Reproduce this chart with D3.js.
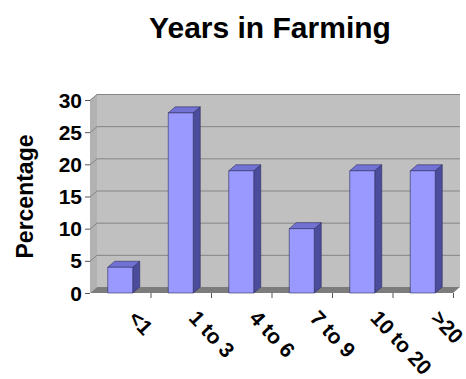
<!DOCTYPE html>
<html>
<head>
<meta charset="utf-8">
<script src="https://cdn.jsdelivr.net/npm/d3@7"></script>
<style>
    body { margin: 0; background: #fff; }
    text { font-family: Arial, 'Liberation Sans', sans-serif; font-weight: bold; fill: #000; }
</style>
</head>
<body>
<div id="root"></div>
<script>
const categories = ['<1', '1 to 3', '4 to 6', '7 to 9', '10 to 20', '>20'];
const values = [4, 28, 19, 10, 19, 19];
const yTicks = [0, 5, 10, 15, 20, 25, 30];

const width = 466;
const height = 379;
// front plane of the plot and the 3d depth offset
const plot = { left: 90, right: 453, top: 100, bottom: 293 };
const depth = { dx: 7, dy: -6 };

const svg = d3.select('#root')
    .append('svg')
    .attr('width', width)
    .attr('height', height);

const y = d3.scaleLinear()
    .domain([0, 30])
    .range([plot.bottom, plot.top]);

const slot = d3.scaleBand()
    .domain(categories)
    .range([plot.left, plot.right]);

const x = d3.scaleBand()
    .domain(categories)
    .range([plot.left, plot.right])
    .paddingInner(0.587)
    .paddingOuter(0.2935);

const pts = p => p.map(d => d.join(',')).join(' ');
const y0 = y(0);
const yTop = y(30);

// back wall
svg.append('rect')
    .attr('x', plot.left + depth.dx)
    .attr('y', yTop + depth.dy)
    .attr('width', plot.right - plot.left)
    .attr('height', y0 - yTop)
    .attr('fill', '#c0c0c0');

// left side wall
svg.append('polygon')
    .attr('points', pts([
        [plot.left, yTop], [plot.left + depth.dx, yTop + depth.dy],
        [plot.left + depth.dx, y0 + depth.dy], [plot.left, y0],
    ]))
    .attr('fill', '#b2b2b2');

// floor
svg.append('polygon')
    .attr('points', pts([
        [plot.left, y0], [plot.left + depth.dx, y0 + depth.dy],
        [plot.right + depth.dx, y0 + depth.dy], [plot.right, y0],
    ]))
    .attr('fill', '#7c7c7c');

// gridlines on the back and side walls
const grid = svg.append('g')
    .attr('stroke', '#858585')
    .attr('stroke-width', 1);

grid.selectAll('line.back')
    .data(yTicks.filter(d => d > 0))
    .join('line')
    .attr('class', 'back')
    .attr('x1', plot.left + depth.dx)
    .attr('x2', plot.right + depth.dx)
    .attr('y1', d => y(d) + depth.dy + 0.5)
    .attr('y2', d => y(d) + depth.dy + 0.5);

grid.selectAll('line.side')
    .data(yTicks.filter(d => d > 0))
    .join('line')
    .attr('class', 'side')
    .attr('x1', plot.left)
    .attr('x2', plot.left + depth.dx)
    .attr('y1', d => y(d) + 0.5)
    .attr('y2', d => y(d) + depth.dy + 0.5);

// bars
const bars = svg.append('g')
    .selectAll('g')
    .data(values)
    .join('g')
    .attr('stroke', '#2b2b5e')
    .attr('stroke-width', 0.6)
    .attr('stroke-linejoin', 'round');

bars.append('polygon')
    .attr('fill', '#4c4c9c')
    .attr('points', (d, i) => {
        const x1 = x(categories[i]) + x.bandwidth();
        return pts([
            [x1, y(d)], [x1 + depth.dx, y(d) + depth.dy],
            [x1 + depth.dx, y0 + depth.dy], [x1, y0],
        ]);
    });

bars.append('polygon')
    .attr('fill', '#7272d4')
    .attr('points', (d, i) => {
        const x0 = x(categories[i]);
        const x1 = x0 + x.bandwidth();
        return pts([
            [x0, y(d)], [x0 + depth.dx, y(d) + depth.dy],
            [x1 + depth.dx, y(d) + depth.dy], [x1, y(d)],
        ]);
    });

bars.append('rect')
    .attr('fill', '#9999ff')
    .attr('x', (d, i) => x(categories[i]))
    .attr('y', d => y(d))
    .attr('width', x.bandwidth())
    .attr('height', d => y0 - y(d));

// axis ticks
const axis = svg.append('g')
    .attr('stroke', '#555')
    .attr('stroke-width', 1);

axis.selectAll('line.ytick')
    .data(yTicks)
    .join('line')
    .attr('class', 'ytick')
    .attr('x1', plot.left - 5)
    .attr('x2', plot.left)
    .attr('y1', d => y(d) + 0.5)
    .attr('y2', d => y(d) + 0.5);

axis.selectAll('line.xtick')
    .data(categories)
    .join('line')
    .attr('class', 'xtick')
    .attr('x1', d => slot(d) + slot.bandwidth() + 0.5)
    .attr('x2', d => slot(d) + slot.bandwidth() + 0.5)
    .attr('y1', y0)
    .attr('y2', y0 + 5);

// tick labels
svg.append('g')
    .selectAll('text')
    .data(yTicks)
    .join('text')
    .attr('x', plot.left - 8)
    .attr('y', d => y(d))
    .attr('dy', '0.36em')
    .attr('text-anchor', 'end')
    .style('font-size', '21px')
    .text(d => d);

svg.append('g')
    .selectAll('text')
    .data(categories)
    .join('text')
    .attr('transform', d => `translate(${slot(d) + slot.bandwidth() / 2 + 7},${y0 + 26}) rotate(47)`)
    .attr('text-anchor', 'start')
    .style('font-size', '21px')
    .text(d => d);

// titles
svg.append('text')
    .attr('x', 270)
    .attr('y', 38)
    .attr('text-anchor', 'middle')
    .style('font-size', '30px')
    .text('Years in Farming');

svg.append('text')
    .attr('transform', `translate(33,${(plot.top + plot.bottom) / 2}) rotate(-90)`)
    .attr('text-anchor', 'middle')
    .style('font-size', '23px')
    .text('Percentage');
</script>
</body>
</html>
